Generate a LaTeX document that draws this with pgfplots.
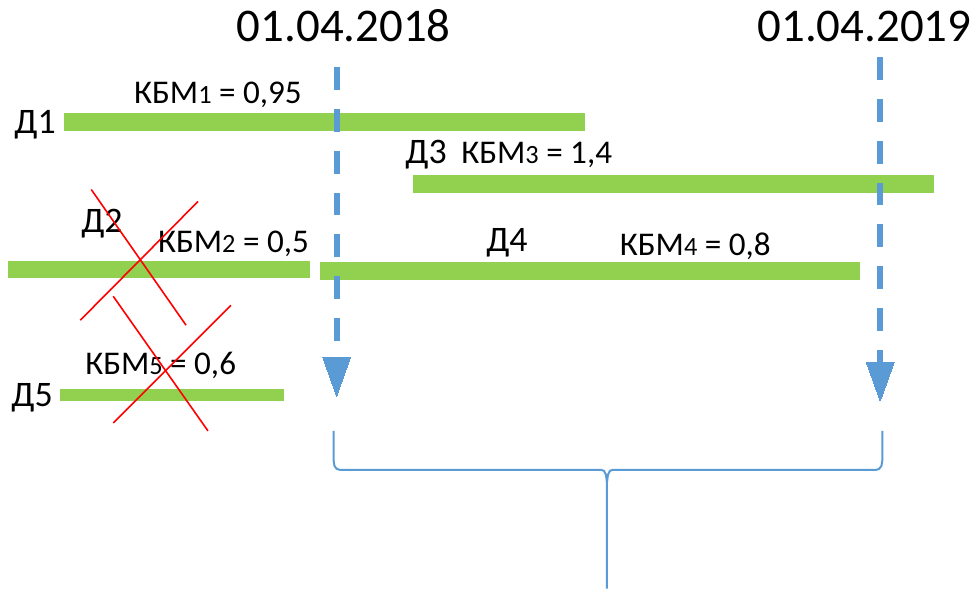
\documentclass[border=0pt]{standalone}
\usepackage{pgfplots}
\pgfplotsset{compat=1.18}
\usepackage{fontspec}
\setmainfont{Carlito}
\definecolor{bargreen}{HTML}{92D050}
\definecolor{lineblue}{HTML}{5B9BD5}
\newcommand{\kbm}[2]{\fontsize{16.6pt}{18pt}\selectfont КБМ{\fontsize{13.2pt}{14pt}\selectfont #1} = #2}
\newcommand{\dd}[1]{\fontsize{18pt}{20pt}\selectfont Д#1}
\tikzset{lbl/.style={inner sep=0pt, outer sep=0pt, anchor=base west}}
\begin{document}
\begin{tikzpicture}
\begin{axis}[
  width=488pt, height=295pt, scale only axis,
  xmin=0, xmax=976, ymin=0, ymax=590, y dir=reverse,
  hide axis, clip=false,
]
% invisible frame to fix the bounding box
\addplot[draw=none, mark=none] coordinates {(0,0) (976,590)};
% green bars
\addplot[bargreen, line width=9pt, line cap=butt, mark=none] coordinates {(62,122.5) (584,122.5)};
\addplot[bargreen, line width=9pt, line cap=butt, mark=none] coordinates {(412,184) (934,184)};
\addplot[bargreen, line width=8.5pt, line cap=butt, mark=none] coordinates {(6,270) (308,270)};
\addplot[bargreen, line width=9pt, line cap=butt, mark=none] coordinates {(318,271.5) (860,271.5)};
\addplot[bargreen, line width=6pt, line cap=butt, mark=none] coordinates {(58,396) (282,396)};
% texts
\node[lbl] at (235,42) {\fontsize{23.5pt}{26pt}\selectfont 01.04.2018};
\node[lbl] at (757,42) {\fontsize{23.5pt}{26pt}\selectfont 01.04.2019};
\node[lbl] at (132,104) {\kbm{1}{0,95}};
\node[lbl] at (12,134) {\dd{1}};
\node[lbl] at (404,164) {\dd{3}};
\node[lbl] at (460,164) {\kbm{3}{1,4}};
\node[lbl] at (79,233) {\dd{2}};
\node[lbl] at (156,253) {\kbm{2}{0,5}};
\node[lbl] at (485,252) {\dd{4}};
\node[lbl] at (619,256) {\kbm{4}{0,8}};
\node[lbl] at (83,375) {\kbm{5}{0,6}};
\node[lbl] at (9,408) {\dd{5}};
% red crosses
\addplot[red, line width=0.8pt, mark=none] coordinates {(89,190) (184,326)};
\addplot[red, line width=0.8pt, mark=none] coordinates {(196,202) (78,321)};
\addplot[red, line width=0.8pt, mark=none] coordinates {(111,297) (206,432)};
\addplot[red, line width=0.8pt, mark=none] coordinates {(229,306) (111,424)};
% blue dashed lines
\addplot[lineblue, line width=3pt, line cap=butt, dash pattern=on 11.5pt off 9.5pt, mark=none] coordinates {(335,67) (335,342)};
\addplot[lineblue, line width=3pt, line cap=butt, dash pattern=on 11.5pt off 9.5pt, mark=none] coordinates {(880,57) (880,363)};
% arrow heads
\addplot[lineblue, fill=lineblue, line width=0pt, mark=none] coordinates {(321,358) (349,358) (335,397) (321,358)};
\addplot[lineblue, fill=lineblue, line width=0pt, mark=none] coordinates {(866,363) (894,363) (880,402) (866,363)};
% brace
\addplot[lineblue, line width=1pt, mark=none] coordinates {
  (332,432) (332,462) (332.8,467) (335,470) (338,471)
  (600,471) (603,472) (605,476) (606,484) (606,590)};
\addplot[lineblue, line width=1pt, mark=none] coordinates {
  (606,484) (607,476) (609,472) (612,471)
  (876,471) (879,470) (881.2,467) (882,462) (882,432)};
\end{axis}
\end{tikzpicture}
\end{document}
